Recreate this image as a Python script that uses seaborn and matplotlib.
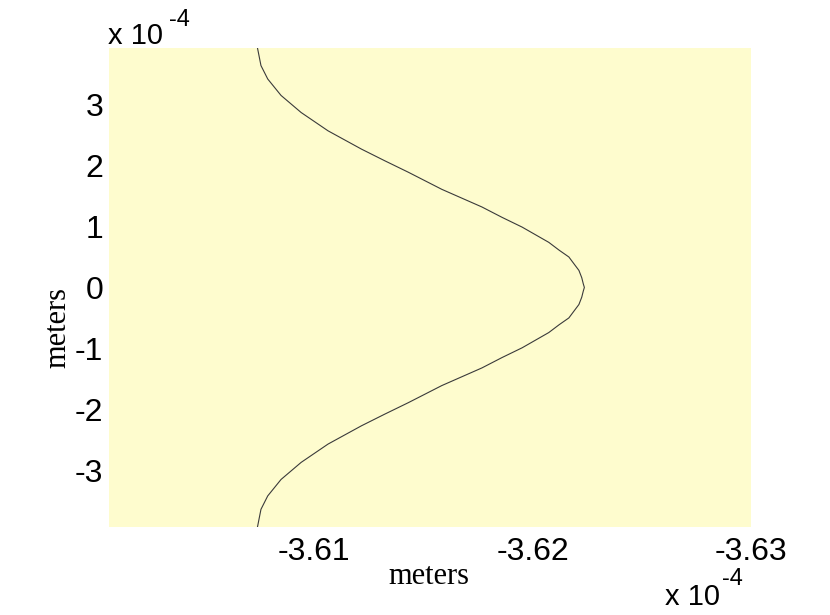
import matplotlib
matplotlib.use("Agg")
import matplotlib.pyplot as plt
import seaborn as sns
import pandas as pd

# curve, both axes in units of 1e-4 m
y_vals = [3.93, 3.64, 3.42, 3.15, 2.87, 2.57, 2.27, 2.08, 1.89, 1.61, 1.32, 1.15, 0.99,
          0.74, 0.61, 0.50, 0.38, 0.28, 0.16, 0.06, 0.0,
          -0.06, -0.16, -0.28, -0.38, -0.50, -0.61, -0.74,
          -0.99, -1.15, -1.32, -1.61, -1.89, -2.08, -2.27, -2.57, -2.87, -3.15, -3.42, -3.64, -3.93]
x_vals = [-3.6074, -3.60756, -3.60787, -3.60848, -3.6094, -3.61063, -3.61216, -3.61322, -3.61431,
          -3.61584, -3.61768, -3.6186, -3.61952,
          -3.62074, -3.62122, -3.62166, -3.62191, -3.62212, -3.62225, -3.62232, -3.62237,
          -3.62232, -3.62225, -3.62212, -3.62191, -3.62166, -3.62122, -3.62074,
          -3.61952, -3.6186, -3.61768, -3.61584, -3.61431, -3.61322, -3.61216, -3.61063,
          -3.6094, -3.60848, -3.60787, -3.60756, -3.6074]
x_ticks = [-3.61, -3.62, -3.63]
y_ticks = [-3, -2, -1, 0, 1, 2, 3]

df = pd.DataFrame({"x": x_vals, "y": y_vals})

sns.set_style("white")
plt.rcParams["font.family"] = ["Liberation Sans", "DejaVu Sans"]

fig = plt.figure(figsize=(8.3, 6.15), dpi=100)
ax = fig.add_axes([0.1313, 0.1431, 0.7735, 0.779])
ax.set_facecolor("#fefcce")

sns.lineplot(data=df, x="x", y="y", sort=False, estimator=None, color="#3a3a3a", linewidth=0.8, ax=ax)

ax.set_xlim(-3.6006, -3.63)
ax.set_ylim(-3.93, 3.93)
ax.set_xticks(x_ticks)
ax.set_xticklabels([f"{t:.2f}" for t in x_ticks])
ax.set_yticks(y_ticks)
ax.set_yticklabels([str(t) for t in y_ticks])
ax.tick_params(axis="both", labelsize=23, length=0, labelcolor="black")
ax.tick_params(axis="x", pad=7)
ax.tick_params(axis="y", pad=4)
for s in ax.spines.values():
    s.set_visible(False)
ax.set_xlabel("")
ax.set_ylabel("")

fig.text(0.517, 0.062, "meters", family="Liberation Serif", fontsize=22, ha="center", va="center", color="black")
fig.text(0.070, 0.467, "meters", family="Liberation Serif", fontsize=22, ha="center", va="center",
         rotation=90, color="black")

# MATLAB-style exponent labels
fig.text(0.130, 0.928, "x 10", fontsize=21, ha="left", va="baseline", color="black")
fig.text(0.204, 0.958, "-4", fontsize=17, ha="left", va="baseline", color="black")
fig.text(0.801, 0.016, "x 10", fontsize=21, ha="left", va="baseline", color="black")
fig.text(0.870, 0.048, "-4", fontsize=17, ha="left", va="baseline", color="black")

fig.savefig("out.png", dpi=100, facecolor="white")
